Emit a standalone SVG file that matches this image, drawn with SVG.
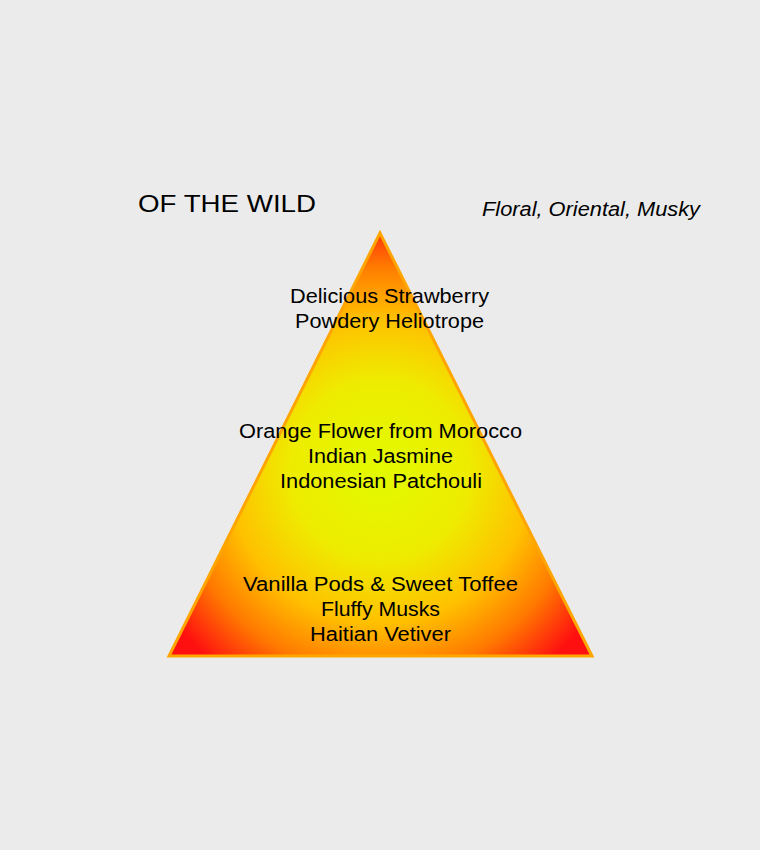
<svg xmlns="http://www.w3.org/2000/svg" width="760" height="850" viewBox="0 0 760 850">
<style>
text{font-family:"Liberation Sans",Arial,sans-serif;fill:#000}
.t{font-size:20px;text-anchor:middle}
</style>
<defs>
<radialGradient id="g" gradientUnits="userSpaceOnUse" cx="380" cy="470" r="255">
<stop offset="0" stop-color="#e2fa00"/>
<stop offset="0.35" stop-color="#eeec00"/>
<stop offset="0.6" stop-color="#ffc000"/>
<stop offset="0.8" stop-color="#ff7a00"/>
<stop offset="1" stop-color="#ff1010"/>
</radialGradient>
</defs>
<rect width="760" height="850" fill="#ebebeb"/>
<g id="title"><text x="138" y="212" font-size="24" textLength="178" lengthAdjust="spacingAndGlyphs">OF THE WILD</text></g>
<g id="subtitle"><text x="482" y="216" font-size="20" font-style="italic" textLength="218" lengthAdjust="spacingAndGlyphs">Floral, Oriental, Musky</text></g>
<g id="pyramid"><polygon points="380,233 169,656 592,656" fill="url(#g)" stroke="#ffa500" stroke-width="3"/></g>
<g id="top"><text class="t" x="389.5" y="303" textLength="199" lengthAdjust="spacingAndGlyphs">Delicious Strawberry</text><text class="t" x="389.5" y="328" textLength="189" lengthAdjust="spacingAndGlyphs">Powdery Heliotrope</text></g>
<g id="heart"><text class="t" x="380.5" y="438" textLength="283" lengthAdjust="spacingAndGlyphs">Orange Flower from Morocco</text><text class="t" x="380.5" y="463" textLength="145" lengthAdjust="spacingAndGlyphs">Indian Jasmine</text><text class="t" x="381" y="488" textLength="202" lengthAdjust="spacingAndGlyphs">Indonesian Patchouli</text></g>
<g id="base"><text class="t" x="380.5" y="591" textLength="275" lengthAdjust="spacingAndGlyphs">Vanilla Pods &amp; Sweet Toffee</text><text class="t" x="380.5" y="616" textLength="119" lengthAdjust="spacingAndGlyphs">Fluffy Musks</text><text class="t" x="380.5" y="641" textLength="141" lengthAdjust="spacingAndGlyphs">Haitian Vetiver</text></g>
<g id="connectors"/>
</svg>
